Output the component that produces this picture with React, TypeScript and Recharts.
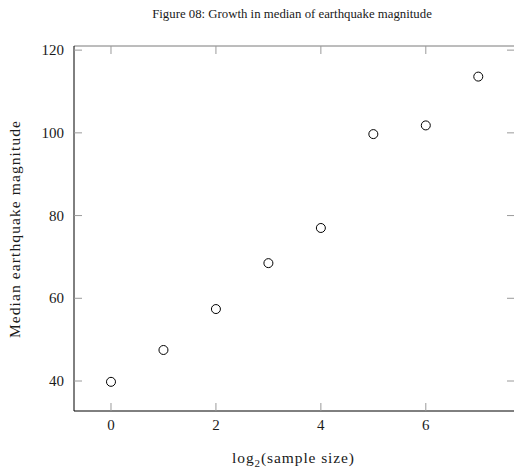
import React from "react";
import { ScatterChart, Scatter, XAxis, YAxis } from "recharts";

const sampleSizeLog2 = [0, 1, 2, 3, 4, 5, 6, 7];
const medianMagnitude = [39.8, 47.5, 57.4, 68.5, 77.0, 99.7, 101.8, 113.6];
const xTicks = [0, 2, 4, 6];
const yTicks = [40, 60, 80, 100, 120];

const titleText = "Figure 08: Growth in median of earthquake magnitude";
const yLabelText = "Median earthquake magnitude";

const data = sampleSizeLog2.map((x, i) => ({ x, y: medianMagnitude[i] }));

const FONT = "'Liberation Serif', 'Times New Roman', serif";
const TICK_GRAY = "#9a9a9a";
const TEXT = "#1a1a1a";

const BottomTick = (props: any) => {
  const { x, y, payload } = props;
  return (
    <g>
      <line x1={x} y1={y} x2={x} y2={y - 8} stroke={TICK_GRAY} strokeWidth={1} />
      <text x={x} y={y + 19} textAnchor="middle" fontFamily={FONT} fontSize={15} fill={TEXT}>
        {payload.value}
      </text>
    </g>
  );
};

const TopTick = (props: any) => {
  const { x, y } = props;
  return <line x1={x} y1={y} x2={x} y2={y + 8} stroke={TICK_GRAY} strokeWidth={1} />;
};

const LeftTick = (props: any) => {
  const { x, y, payload } = props;
  return (
    <g>
      <line x1={x} y1={y} x2={x + 8} y2={y} stroke={TICK_GRAY} strokeWidth={1} />
      <text x={x - 10} y={y + 5} textAnchor="end" fontFamily={FONT} fontSize={15} fill={TEXT}>
        {payload.value}
      </text>
    </g>
  );
};

const RightTick = (props: any) => {
  const { x, y } = props;
  return <line x1={x} y1={y} x2={x - 8} y2={y} stroke={TICK_GRAY} strokeWidth={1} />;
};

const Marker = (props: any) => {
  const { cx, cy } = props;
  return <circle cx={cx} cy={cy} r={4.5} fill="none" stroke="#000" strokeWidth={1} />;
};

export default function App() {
  return (
    <div style={{ position: "absolute", left: 0, top: 0, width: 514, height: 471, overflow: "hidden", background: "#fff" }}>
      <ScatterChart width={530} height={471} margin={{ top: 45, right: 14, bottom: 59, left: 73 }}>
        <XAxis
          xAxisId="bottom"
          dataKey="x"
          type="number"
          domain={[-0.705, 7.7]}
          ticks={xTicks}
          orientation="bottom"
          height={1}
          tickSize={0}
          tickMargin={0}
          tickLine={false}
          axisLine={{ stroke: "#000", strokeWidth: 1 }}
          tick={<BottomTick />}
          allowDataOverflow
        />
        <XAxis
          xAxisId="top"
          dataKey="x"
          type="number"
          domain={[-0.705, 7.7]}
          ticks={xTicks}
          orientation="top"
          height={1}
          tickSize={0}
          tickMargin={0}
          tickLine={false}
          axisLine={{ stroke: "#7a7a7a", strokeWidth: 1 }}
          tick={<TopTick />}
          allowDataOverflow
        />
        <YAxis
          yAxisId="left"
          dataKey="y"
          type="number"
          domain={[32.75, 121]}
          ticks={yTicks}
          orientation="left"
          width={1}
          tickSize={0}
          tickMargin={0}
          tickLine={false}
          axisLine={{ stroke: "#000", strokeWidth: 1 }}
          tick={<LeftTick />}
          allowDataOverflow
        />
        <YAxis
          yAxisId="right"
          dataKey="y"
          type="number"
          domain={[32.75, 121]}
          ticks={yTicks}
          orientation="right"
          width={1}
          tickSize={0}
          tickMargin={0}
          tickLine={false}
          axisLine={false}
          tick={<RightTick />}
          allowDataOverflow
        />
        <Scatter
          data={data}
          xAxisId="bottom"
          yAxisId="left"
          shape={<Marker />}
          isAnimationActive={false}
        />
      </ScatterChart>
      <svg
        width={514}
        height={471}
        style={{ position: "absolute", left: 0, top: 0, pointerEvents: "none" }}
      >
        <text x={292} y={18} textAnchor="middle" fontFamily={FONT} fontSize={12.8} fill={TEXT}>
          {titleText}
        </text>
        <text x={293.5} y={463} textAnchor="middle" fontFamily={FONT} fontSize={15.5} fill={TEXT} letterSpacing={0.9}>
          log
          <tspan fontSize={11} dy={4}>2</tspan>
          <tspan dy={-4}>(sample size)</tspan>
        </text>
        <text
          x={0}
          y={0}
          transform="translate(20, 229) rotate(-90)"
          textAnchor="middle"
          fontFamily={FONT}
          fontSize={15.5}
          fill={TEXT}
          letterSpacing={1.1}
        >
          {yLabelText}
        </text>
      </svg>
    </div>
  );
}
